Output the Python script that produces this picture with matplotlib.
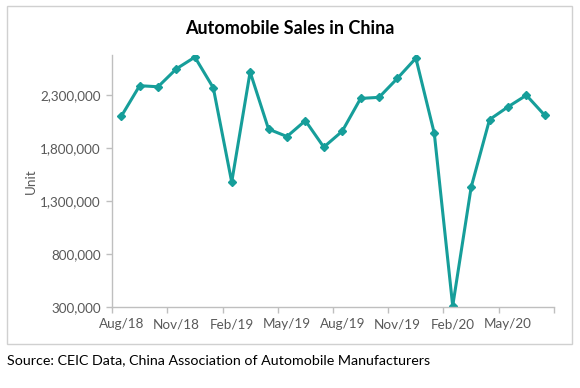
import numpy as np
import matplotlib.pyplot as plt
from matplotlib.patches import Rectangle
from matplotlib.ticker import FuncFormatter

# monthly sales, Aug/18 .. Jul/20
months = ['Aug/18', 'Sep/18', 'Oct/18', 'Nov/18', 'Dec/18', 'Jan/19',
          'Feb/19', 'Mar/19', 'Apr/19', 'May/19', 'Jun/19', 'Jul/19',
          'Aug/19', 'Sep/19', 'Oct/19', 'Nov/19', 'Dec/19', 'Jan/20',
          'Feb/20', 'Mar/20', 'Apr/20', 'May/20', 'Jun/20', 'Jul/20']
sales = [2100000, 2390000, 2380000, 2550000, 2660000, 2370000,
         1480000, 2520000, 1980000, 1910000, 2060000, 1810000,
         1960000, 2270000, 2280000, 2460000, 2650000, 1940000,
         310000, 1430000, 2070000, 2190000, 2300000, 2110000]
yticks = [300000, 800000, 1300000, 1800000, 2300000]

plt.rcParams['font.family'] = ['Lato', 'DejaVu Sans']
teal = '#169E9A'
grey = '#595959'

fig = plt.figure(figsize=(5.8, 3.88), dpi=100)
fig.patches.append(Rectangle((7/580, 1-344/388), 565/580, 338/388,
                             transform=fig.transFigure, fill=False,
                             edgecolor='#D0D0D0', linewidth=1))

ax = fig.add_axes([112/580, 1-307/388, 442/580, 252/388])
x = np.arange(len(months))
ax.plot(x, sales, color=teal, linewidth=2.2, marker='D', markersize=4.5)

ax.set_xlim(-0.5, len(months) - 0.5)
ax.set_ylim(300000, 2680000)
ax.set_yticks(yticks)
ax.yaxis.set_major_formatter(FuncFormatter(lambda v, p: f'{int(v):,}'))

lab_idx = x[::3]
ax.set_xticks(lab_idx)
ax.set_xticklabels([months[i] for i in lab_idx])
ax.set_xticks(np.arange(-0.5, len(months), 3), minor=True)
ax.tick_params(axis='x', which='major', length=0, pad=8)
ax.tick_params(axis='x', which='minor', length=4, color='#BFBFBF', width=1)
ax.tick_params(axis='y', length=4, color='#BFBFBF', width=1, pad=4)
ax.tick_params(labelsize=9.7, labelcolor=grey)

for s in ['top', 'right']:
    ax.spines[s].set_visible(False)
for s in ['left', 'bottom']:
    ax.spines[s].set_color('#BFBFBF')
    ax.spines[s].set_linewidth(1)

ax.set_ylabel('Unit', color=grey, fontsize=9.7)
ax.yaxis.set_label_coords(-0.17, 0.5)

fig.text(290/580, 1-29/388, 'Automobile Sales in China', ha='center', va='center',
         fontsize=13, fontweight='bold', color='black')
fig.text(7/580, 1-360/388, 'Source: CEIC Data, China Association of Automobile Manufacturers',
         ha='left', va='center', fontsize=10.3, color='black')

fig.savefig('out.png', dpi=100)
